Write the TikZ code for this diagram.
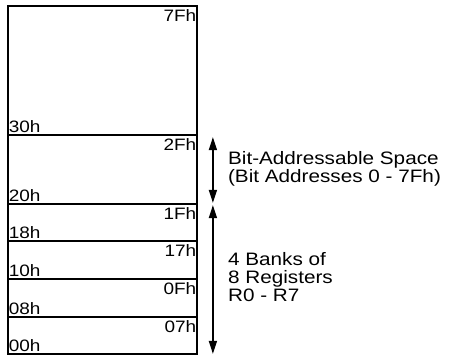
\documentclass[tikz,border=0pt]{standalone}
\usepackage{fontspec}
\setmainfont{Liberation Sans}[FakeStretch=1.15]
\usetikzlibrary{arrows.meta,positioning,calc}
\tikzstyle{region}=[draw,line width=1.8pt,minimum width=189pt,inner sep=0pt]
\tikzstyle{addr}=[inner sep=1.5pt,font=\fontsize{16.5pt}{18pt}\selectfont]
\tikzstyle{note}=[inner sep=0pt,align=left,font=\fontsize{18pt}{18pt}\selectfont]
\tikzstyle{span} = [draw,line width=1.5pt,{Triangle[length=13pt,width=8pt]}-{Triangle[length=13pt,width=8pt]}]

\begin{document}
\begin{tikzpicture}[x=1pt,y=1pt]
    \useasboundingbox (0,0) rectangle (449,356);
    % Draw the internal RAM map
    % First we stack the regions, bottom to top
    \foreach \top/\bot/\hi/\lo/\name in {350/221/7Fh/30h/scratch, 221/152/2Fh/20h/bitspace, 152/115/1Fh/18h/bankC, 115/77/17h/10h/bankB, 77/39/0Fh/08h/bankA, 39/2/07h/00h/bankZ}
    {
        \node[region, minimum height=\top-\bot] (\name) at (102.5,{(\top+\bot)/2}) {};
        \node[addr, anchor=north east, yshift=-2.5pt] (\name-hi) at (\name.north east) {\hi};
        \node[addr, anchor=south west, yshift=1.5pt] (\name-lo) at (\name.south west) {\lo};
    }

    % Span arrows beside the map
    \coordinate (bittop) at ([xshift=15pt]bitspace.north east);
    \coordinate (bitbot) at ([xshift=15pt]bitspace.south east);
    \coordinate (banktop) at ([xshift=15pt]bankC.north east);
    \coordinate (bankbot) at ([xshift=15pt]bankZ.south east);
    \path[span, shorten <=3pt, shorten >=2pt] (bittop) -- (bitbot);
    \path[span, shorten <=2pt, shorten >=1pt] (banktop) -- (bankbot);

    % Then the notes
    \node[note, anchor=west] (bitnote) at ([xshift=15pt,yshift=1pt]$(bittop)!0.5!(bitbot)$) {Bit-Addressable Space\\(Bit Addresses 0 - 7Fh)};
    \node[note, anchor=west] (banknote) at ([xshift=15pt,yshift=2pt]$(banktop)!0.5!(bankbot)$) {4 Banks of\\8 Registers\\R0 - R7};
\end{tikzpicture}
\end{document}
